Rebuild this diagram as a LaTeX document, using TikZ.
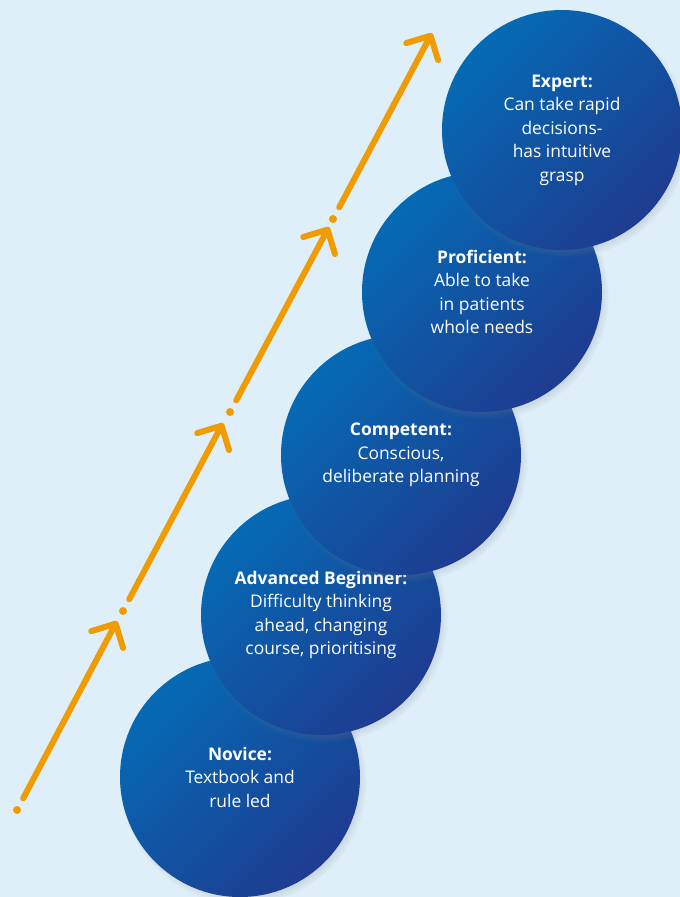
\documentclass[tikz,border=0pt]{standalone}
\usepackage{fontspec}
\setmainfont{Open Sans}
\usetikzlibrary{arrows.meta,shadows}
\definecolor{bgblue}{RGB}{222,239,250}
\definecolor{ballhi}{RGB}{5,106,180}
\definecolor{balllo}{RGB}{30,60,144}
\definecolor{stepor}{RGB}{240,155,0}

\begin{document}
\begin{tikzpicture}[x=1pt,y=-1pt,
    stage/.style={circle, minimum size=240pt, inner sep=0pt,
        top color=ballhi, bottom color=balllo, shading angle=45,
        circular drop shadow={shadow xshift=3pt, shadow yshift=-4pt, shadow scale=1.03, opacity=0.45},
        text=white, align=center, font=\fontsize{17.4}{23.5}\selectfont},
    stepdot/.style={circle, fill=stepor, inner sep=0pt, minimum size=8pt},
    stepline/.style={draw=stepor, line width=6pt, line cap=round, shorten <=9pt,
        -{Straight Barb[length=18pt, width=36pt, round]}}]
    %background
    \fill[bgblue] (0,0) rectangle (680,897);
    \useasboundingbox (0,0) rectangle (680,897);
    %stages, lowest first
    \node[stage] (novice) at (240,777) {\textbf{Novice:}\\Textbook and\\rule led};
    \node[stage] (advbeg) at (321,615) {\textbf{Advanced Beginner:}\\Difficulty thinking\\ahead, changing\\course, prioritising};
    \node[stage] (compet) at (401,455) {\textbf{Competent:}\\Conscious,\\deliberate planning};
    \node[stage] (profic) at (482,292) {\textbf{Proficient:}\\Able to take\\in patients\\whole needs};
    \node[stage] (expert) at (562,130) {\textbf{Expert:}\\Can take rapid\\decisions-\\has intuitive\\grasp};
    %dots and tips
    \node[stepdot] (d1) at (17,810) {};
    \node[stepdot] (d2) at (123,611) {};
    \node[stepdot] (d3) at (230,412) {};
    \node[stepdot] (d4) at (333,219) {};
    \coordinate (t1) at (117,621);
    \coordinate (t2) at (223,423);
    \coordinate (t3) at (329,227);
    \coordinate (t4) at (432,33);
    %arrows
    \draw[stepline] (d1) -- (t1);
    \draw[stepline] (d2) -- (t2);
    \draw[stepline] (d3) -- (t3);
    \draw[stepline] (d4) -- (t4);
\end{tikzpicture}
\end{document}
